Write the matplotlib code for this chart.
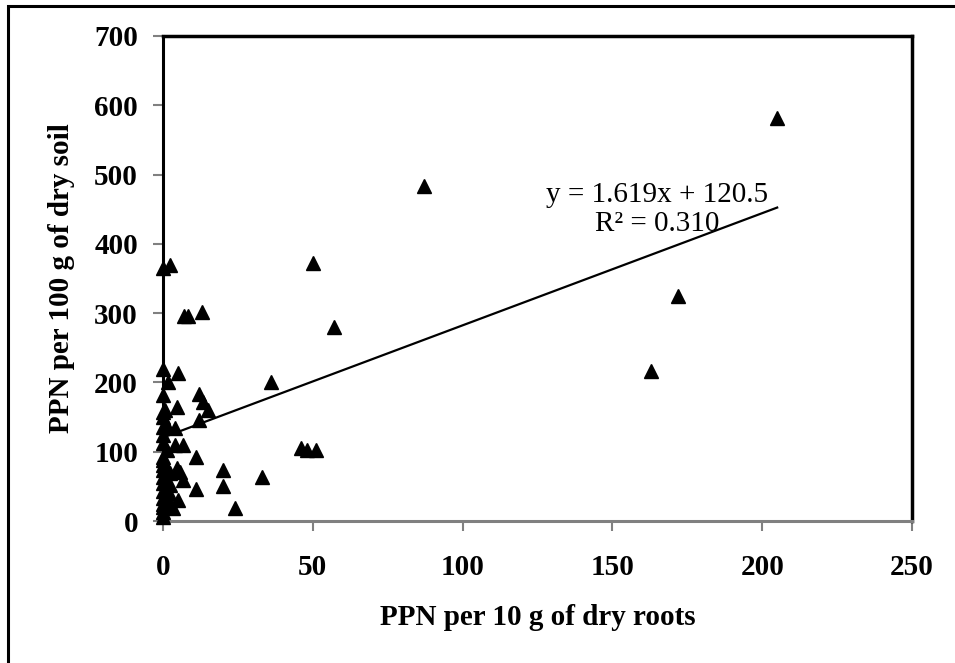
import matplotlib
matplotlib.use("Agg")
import matplotlib.pyplot as plt
from matplotlib.patches import Rectangle

# PPN per 10 g of dry roots (x) vs PPN per 100 g of dry soil (y)
roots = [205, 87, 50, 57, 172, 163, 36,
         46, 48, 51,
         33, 20, 20, 24,
         11, 11,
         12, 13.5, 15, 12, 13, 7, 8.5,
         0, 2.3,
         0, 5, 1.7, 0, 4.6, 0.7, 0, 0, 4, 0, 4, 6.7, 0, 1.3,
         0, 0, 4.6, 5.7, 0, 2.3, 6.7, 0, 0, 2.3, 0, 5, 2.3, 0, 0, 0, 3.3,
         0, 0, 1, 0, 2, 1, 0]
soil = [582, 483, 373, 280, 325, 217, 200,
        106, 102, 102,
        63, 74, 50, 19,
        46, 92,
        184, 172, 160, 146, 302, 296, 296,
        365, 369,
        220, 213, 200, 182, 165, 160, 150, 136, 134, 124, 110, 110, 112, 102,
        92, 81, 76, 71, 63, 69, 59, 55, 33, 52, 20, 30, 26, 13, 6, 44, 19,
        157, 88, 140, 73, 40, 28, 24]

slope = 1.619
intercept = 120.5
r2 = 0.310

fig = plt.figure(figsize=(9.55, 6.63), dpi=100)
ax = fig.add_axes([163/955, 1-521/663, (912-163)/955, (521-36)/663])

serif = ["Liberation Serif", "DejaVu Serif"]

# trend line over the data range
x0, x1 = min(roots), max(roots)
ax.plot([x0, x1], [slope*x0 + intercept, slope*x1 + intercept], color="black", lw=1.6, zorder=2)
ax.plot(roots, soil, linestyle="none", marker="^", ms=10, color="black", zorder=3, clip_on=False)

ax.text(165, 449, "y = %.3fx + %.1f\nR² = %.3f" % (slope, intercept, r2),
        ha="center", va="center", fontsize=21, family=serif, linespacing=1.15,
        multialignment="center")

ax.set_xlim(0, 250)
ax.set_ylim(0, 700)
ax.set_xticks(range(0, 251, 50))
ax.set_yticks(range(0, 701, 100))

for lab in ax.get_xticklabels() + ax.get_yticklabels():
    lab.set_family(serif)
    lab.set_fontweight("bold")
    lab.set_fontsize(21)
ax.tick_params(axis="x", direction="out", length=7, width=1.5, color="#808080", pad=17)
ax.tick_params(axis="y", direction="out", length=7, width=1.5, color="#808080", pad=11)

ax.spines["top"].set_linewidth(2.5)
ax.spines["right"].set_linewidth(2.5)
ax.spines["left"].set_linewidth(2.2)
ax.spines["bottom"].set_color("#808080")
ax.spines["bottom"].set_linewidth(2.2)

ax.set_xlabel("PPN per 10 g of dry roots", fontsize=21, fontweight="bold", family=serif, labelpad=16)
ax.set_ylabel("PPN per 100 g of dry soil", fontsize=21, fontweight="bold", family=serif, labelpad=14)

# outer chart frame
fig.patches.append(Rectangle((8/955, -0.1), 1.2, 1.1 - 6/663 + 0.0, transform=fig.transFigure,
                             fill=False, edgecolor="black", lw=2.2))

fig.savefig("out.png", dpi=100)
